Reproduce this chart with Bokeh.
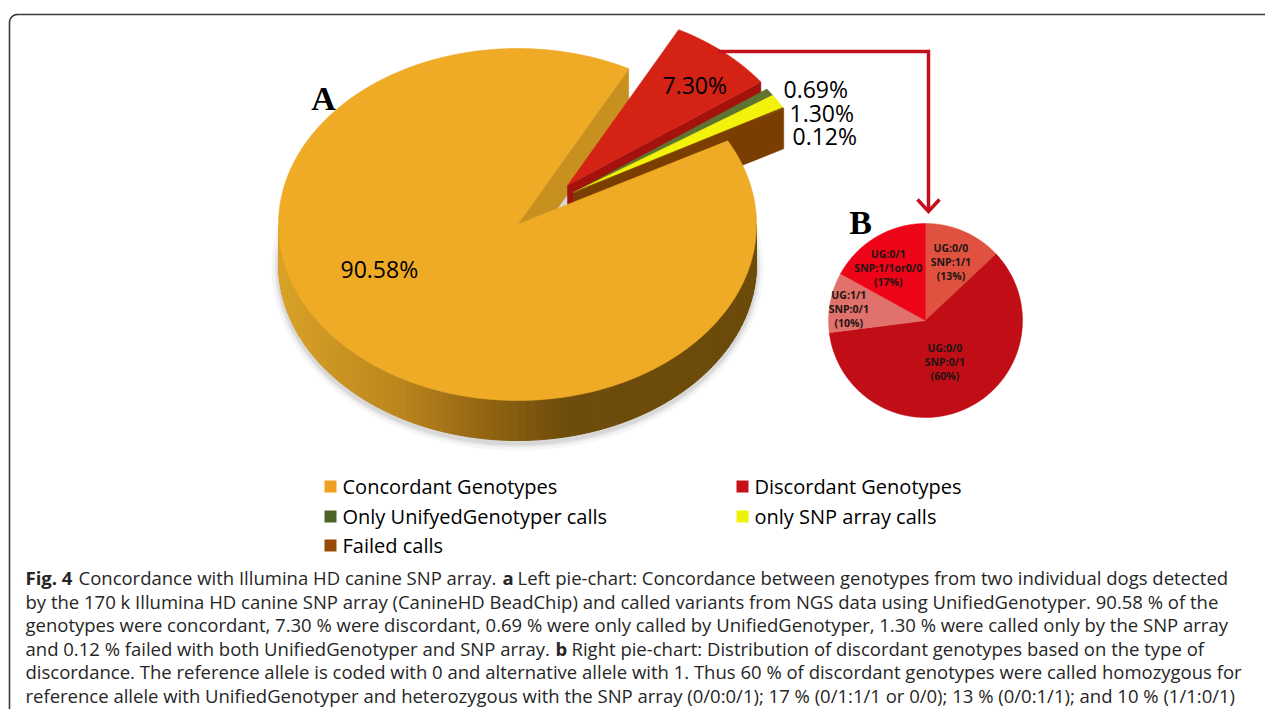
import numpy as np
from bokeh.plotting import figure
from bokeh.models import Range1d
from bokeh.embed import file_html
from bokeh.resources import INLINE
from bokeh.core.properties import value

# ---------------- data ----------------
a_categories = ["Concordant Genotypes", "Discordant Genotypes",
                "Only UnifyedGenotyper calls", "only SNP array calls", "Failed calls"]
a_values = [90.58, 7.30, 0.69, 1.30, 0.12]

b_ug = ["UG:0/0", "UG:0/0", "UG:1/1", "UG:0/1"]
b_snp = ["SNP:1/1", "SNP:0/1", "SNP:0/1", "SNP:1/1or0/0"]
b_values = [13, 60, 10, 17]

caption_lines = [
    [("Fig. 4", True), ("Concordance with Illumina HD canine SNP array.", False), ("a", True),
     ("Left pie-chart: Concordance between genotypes from two individual dogs detected", False)],
    [("by the 170 k Illumina HD canine SNP array (CanineHD BeadChip) and called variants from NGS data using UnifiedGenotyper. 90.58 % of the", False)],
    [("genotypes were concordant, 7.30 % were discordant, 0.69 % were only called by UnifiedGenotyper, 1.30 % were called only by the SNP array", False)],
    [("and 0.12 % failed with both UnifiedGenotyper and SNP array.", False), ("b", True),
     ("Right pie-chart: Distribution of discordant genotypes based on the type of", False)],
    [("discordance. The reference allele is coded with 0 and alternative allele with 1. Thus 60 % of discordant genotypes were called homozygous for", False)],
    [("reference allele with UnifiedGenotyper and heterozygous with the SNP array (0/0:0/1); 17 % (0/1:1/1 or 0/0); 13 % (0/0:1/1); and 10 % (1/1:0/1)", False)],
]

# ---------------- styles / layout ----------------
a_top_colors = ["#EFAA26", "#D42215", "#5E7431", "#F2F20A", "#7E4300"]
a_face_colors = ["#C8911F", "#A3120C", "#4A5C22", "#C8C808", "#7A3F00"]
legend_colors = ["#F0A020", "#C8101A", "#4F6228", "#EEF20A", "#984807"]
b_colors = ["#E0523F", "#C10D15", "#E0716B", "#ED0418"]
wall_stops = [(0.0, "#D9A228"), (0.25, "#BC861C"), (0.45, "#8E6212"),
              (0.6, "#6E4C0B"), (1.0, "#6C4B0A")]

CX, CY, RA, RB, DEPTH = 517, 224, 239, 176, 40
START = 61.6
explode = [(0, 0), (50, -39), (56, -32), (56, -32), (56, -32)]

BCX, BCY, BR = 925, 320, 97
b_label_r = [0.66, 0.47, 0.80, 0.66]
b_label_dang = [0, 0, -2, -5]

W, H = 1265, 709
p = figure(width=W, height=H, x_range=Range1d(0, W), y_range=Range1d(H, 0),
           output_backend="svg", toolbar_location=None, x_axis_type=None, y_axis_type=None,
           min_border=0)
p.grid.visible = False
p.outline_line_color = None
p.background_fill_color = "white"


def pt(cx, cy, phi, r=1.0):
    ph = np.radians(phi)
    return cx + r * RA * np.sin(ph), cy - r * RB * np.cos(ph)


def hex2rgb(h):
    return np.array([int(h[i:i + 2], 16) for i in (1, 3, 5)], float)


def lerp_color(stops, t):
    for (t0, c0), (t1, c1) in zip(stops[:-1], stops[1:]):
        if t <= t1:
            f = (t - t0) / (t1 - t0) if t1 > t0 else 0
            c = hex2rgb(c0) * (1 - f) + hex2rgb(c1) * f
            return "#%02x%02x%02x" % tuple(int(round(v)) for v in c)
    return stops[-1][1]


# frame
fx = [9, 9] + list(17 - 8 * np.cos(np.radians(np.linspace(0, 90, 10)))) + [1290]
fy = [760, 22] + list(22 - 8 * np.sin(np.radians(np.linspace(0, 90, 10)))) + [14]
p.line(fx, fy, line_color="#3a3a3a", line_width=1.6)

# ---------------- pie A (3D) ----------------
total = sum(a_values)
spans = [v / total * 360 for v in a_values]
starts = [START + sum(spans[:i]) for i in range(len(spans))]
ends = [s + sp for s, sp in zip(starts, spans)]

# soft shadow
for k, al in [(7, 0.035), (4, 0.05), (2, 0.07)]:
    th = np.linspace(0, 360, 200)
    sx = CX + (RA + k) * np.sin(np.radians(th))
    sy = CY + DEPTH + 3 - (RB + k) * np.cos(np.radians(th))
    p.patch(sx, sy, fill_color="black", fill_alpha=al, line_color=None)

# orange radial face at its end
ox, oy = explode[0]
ex, ey = pt(CX + ox, CY + oy, ends[0])
p.patch([CX + ox, ex, ex, CX + ox], [CY + oy, ey, ey + DEPTH, CY + oy + DEPTH],
        fill_color=a_face_colors[0], line_color=a_face_colors[0], line_width=0.5)

# outer side walls (front half only)
xs_w, ys_w, cs_w = [], [], []
for i in range(len(a_values)):
    ox, oy = explode[i]
    for lo, hi in [(90, 270), (450, 630)]:
        a0, a1 = max(starts[i], lo), min(ends[i], hi)
        if a1 <= a0:
            continue
        n = max(2, int((a1 - a0) / 2))
        ph = np.linspace(a0, a1, n + 1)
        for j in range(n):
            x0, y0 = pt(CX + ox, CY + oy, ph[j])
            x1, y1 = pt(CX + ox, CY + oy, ph[j + 1])
            t = ((x0 + x1) / 2 - (CX - RA)) / (2 * RA)
            xs_w.append([x0, x1, x1, x0])
            ys_w.append([y0, y1, y1 + DEPTH, y0 + DEPTH])
            cs_w.append(lerp_color(wall_stops, t))
p.patches(xs_w, ys_w, fill_color=cs_w, line_color=cs_w, line_width=1)

# radial faces of exploded pieces (red end, then last piece end)
for i in [1, 4]:
    ox, oy = explode[i]
    ex, ey = pt(CX + ox, CY + oy, ends[i])
    p.patch([CX + ox, ex, ex, CX + ox], [CY + oy, ey, ey + DEPTH, CY + oy + DEPTH],
            fill_color=a_face_colors[i], line_color=a_face_colors[i], line_width=0.5)

# top faces: exploded first, then main slice
for i in [1, 2, 3, 4, 0]:
    ox, oy = explode[i]
    ph = np.linspace(starts[i], ends[i], max(3, int(spans[i] * 2)))
    px, py = pt(CX + ox, CY + oy, ph)
    p.patch([CX + ox] + list(px), [CY + oy] + list(py),
            fill_color=a_top_colors[i], line_color=a_top_colors[i], line_width=0.6)

# pie A labels
lbl_font = value("Open Sans")
a_lbl_pos = [(340, 268), (662, 84), (783, 88), (789, 112), (792, 135)]
p.text([q[0] for q in a_lbl_pos], [q[1] for q in a_lbl_pos],
       text=["%.2f%%" % v for v in a_values], text_font=lbl_font, text_font_size="23px",
       text_align="left", text_baseline="middle", text_color="black")

p.text([323], [98], text=["A"], text_font=value("Liberation Serif"), text_font_style="bold",
       text_font_size="34px", text_align="center", text_baseline="middle", text_color="black")

# arrow
arrow_col = "#C4101C"
p.line([718, 928, 928], [51, 51, 210], line_color=arrow_col, line_width=3.5, line_join="miter")
p.line([917, 928, 939], [199, 211, 199], line_color=arrow_col, line_width=3.5, line_join="miter")

# ---------------- pie B ----------------
btot = sum(b_values)
ang = 0.0
lx, ly, lt = [], [], []
for v, c, rf, da, ug, snp in zip(b_values, b_colors, b_label_r, b_label_dang, b_ug, b_snp):
    span = v / btot * 360
    ph = np.linspace(ang, ang + span, 80)
    xs = [BCX] + list(BCX + BR * np.sin(np.radians(ph)))
    ys = [BCY] + list(BCY - BR * np.cos(np.radians(ph)))
    p.patch(xs, ys, fill_color=c, line_color=c, line_width=0.5)
    mid = np.radians(ang + span / 2 + da)
    mx, my = BCX + rf * BR * np.sin(mid), BCY - rf * BR * np.cos(mid)
    for k, s in enumerate([ug, snp, "(%d%%)" % v]):
        lx.append(mx)
        ly.append(my + (k - 1) * 14)
        lt.append(s)
    ang += span
p.text(lx, ly, text=lt, text_font=lbl_font, text_font_style="bold", text_font_size="10.5px",
       text_align="center", text_baseline="middle", text_color="#1E1414")

p.text([860], [222], text=["B"], text_font=value("Liberation Serif"), text_font_style="bold",
       text_font_size="34px", text_align="center", text_baseline="middle", text_color="black")

# ---------------- legend ----------------
leg_x = [330, 742, 330, 742, 330]
leg_y = [486, 486, 516, 516, 545]
p.rect(leg_x, leg_y, width=12, height=12, fill_color=legend_colors, line_color=None)
p.text([x + 12 for x in leg_x], leg_y, text=a_categories, text_font=lbl_font,
       text_font_size="20px", text_align="left", text_baseline="middle", text_color="black")

# ---------------- caption ----------------
cap_font = value("Open Sans")
seg_x = {(0, 0): 25, (0, 1): 78, (0, 2): 502, (0, 3): 517,
         (3, 0): 25, (3, 1): 555, (3, 2): 571}
cap_y0, cap_dy = 577, 23.6
for li, line in enumerate(caption_lines):
    for si, (txt, bold) in enumerate(line):
        x = seg_x.get((li, si), 25)
        p.text([x], [cap_y0 + li * cap_dy], text=[txt], text_font=cap_font,
               text_font_style="bold" if bold else "normal", text_font_size="18.5px",
               text_align="left", text_baseline="middle", text_color="#262626")

open("out.html", "w").write(file_html(p, INLINE))
